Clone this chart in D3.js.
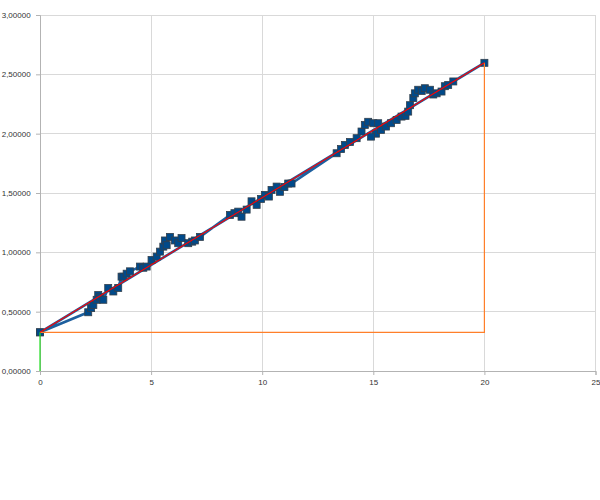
<!DOCTYPE html>
<html><head><meta charset="utf-8">
<script src="https://cdn.jsdelivr.net/npm/d3@7"></script>
<style>body{margin:0;background:#fff}svg{display:block}</style>
</head><body>
<svg id="c" width="600" height="500"></svg>
<script>
const xTicks = [0, 5, 10, 15, 20, 25];
const yTicks = [0, 0.5, 1.0, 1.5, 2.0, 2.5, 3.0];
// measured series (order as plotted)
const seriesX = [0, 2.17, 2.3, 2.4, 2.62, 2.55, 2.7, 2.85, 3.07, 3.3, 3.52, 3.67, 3.75, 3.9, 4.05, 4.5, 4.65, 4.8, 5.02, 5.25, 5.4, 5.55, 5.62, 5.7, 5.85, 6.07, 6.22, 6.37, 6.67, 6.85, 6.97, 7.2,
  8.55, 8.75, 8.92, 9.07, 9.3, 9.52, 9.75, 9.95, 10.12, 10.3, 10.42, 10.65, 10.8, 11.0, 11.17, 11.32,
  13.35, 13.55, 13.72, 13.95, 14.25, 14.47, 14.62, 14.77, 15.0, 15.22, 15.12, 14.9, 15.35, 15.57, 15.8, 16.05, 16.27, 16.45, 16.57, 16.65, 16.8, 16.87, 17.02, 17.18, 17.32, 17.55, 17.7, 17.85, 18.07, 18.22, 18.37, 18.6, 20, 0];
const seriesY = [0.326, 0.495, 0.53, 0.556, 0.64, 0.6, 0.62, 0.6, 0.70, 0.67, 0.70, 0.795, 0.795, 0.82, 0.84, 0.88, 0.87, 0.88, 0.936, 0.964, 1.006, 1.048, 1.10, 1.06, 1.13, 1.10, 1.077, 1.12, 1.077, 1.09, 1.10, 1.13,
  1.315, 1.33, 1.343, 1.30, 1.36, 1.43, 1.40, 1.45, 1.484, 1.47, 1.526, 1.554, 1.51, 1.55, 1.58, 1.58,
  1.835, 1.87, 1.905, 1.93, 1.962, 2.018, 2.074, 2.10, 2.088, 2.088, 2.0, 1.975, 2.032, 2.06, 2.088, 2.116, 2.144, 2.15, 2.186, 2.24, 2.30, 2.34, 2.37, 2.36, 2.383, 2.37, 2.33, 2.34, 2.355, 2.40, 2.41, 2.44, 2.597, 0.326];
const boxX = [0, 20, 20];
const boxY = [0.326, 0.326, 2.597];
const diagX = [0, 20];
const diagY = [0.326, 2.597];
const stemX = [0, 0];
const stemY = [0, 0.326];

const svg = d3.select('#c');
const x = d3.scaleLinear().domain([0, 25]).range([40, 595.5]);
const y = d3.scaleLinear().domain([0, 3]).range([371, 15]);
const fmt = v => d3.format('.5f')(v).replace('.', ',');

// grid
svg.append('g').selectAll('line').data(yTicks).join('line')
  .attr('x1', 40).attr('x2', 595.5).attr('y1', d => y(d)).attr('y2', d => y(d))
  .attr('stroke', '#d9d9d9').attr('stroke-width', 1).attr('shape-rendering', 'crispEdges');
svg.append('g').selectAll('line').data(xTicks).join('line')
  .attr('y1', 15).attr('y2', 371).attr('x1', d => x(d)).attr('x2', d => x(d))
  .attr('stroke', '#d9d9d9').attr('stroke-width', 1).attr('shape-rendering', 'crispEdges');

// axes
const xAxis = d3.axisBottom(x).tickValues(xTicks).tickSize(4).tickFormat(d3.format('d'));
const yAxis = d3.axisLeft(y).tickValues(yTicks).tickSize(4).tickFormat(fmt);
const gx = svg.append('g').attr('transform', 'translate(0,371)').call(xAxis);
const gy = svg.append('g').attr('transform', 'translate(40,0)').call(yAxis);
[gx, gy].forEach(g => {
  g.select('.domain').attr('stroke', '#b3b3b3');
  g.selectAll('.tick line').attr('stroke', '#b3b3b3');
  g.selectAll('text').attr('fill', '#333').style('font', '8px "Liberation Sans", Arial, sans-serif');
});
gx.selectAll('text').attr('dy', '0.9em');
gy.selectAll('text').attr('dx', '-0.3em');

const line = d3.line().x(d => x(d[0])).y(d => y(d[1]));
const pts = seriesX.map((v, i) => [v, seriesY[i]]);

// blue series
svg.append('path').attr('d', line(pts)).attr('fill', 'none')
  .attr('stroke', '#1d5f9e').attr('stroke-width', 2.6).attr('stroke-linejoin', 'round');
svg.append('g').selectAll('rect').data(pts).join('rect')
  .attr('x', d => x(d[0]) - 3.5).attr('y', d => y(d[1]) - 3.5)
  .attr('width', 7).attr('height', 7)
  .attr('fill', '#004a8a').attr('stroke', '#34404c').attr('stroke-width', 0.8);

// orange box
svg.append('path').attr('d', line(boxX.map((v, i) => [v, boxY[i]]))).attr('fill', 'none')
  .attr('stroke', '#ff7f2a').attr('stroke-width', 1.2);
// green stem
svg.append('path').attr('d', line(stemX.map((v, i) => [v, stemY[i]]))).attr('fill', 'none')
  .attr('stroke', '#22dd22').attr('stroke-width', 1.2);
// red diagonal
svg.append('path').attr('d', line(diagX.map((v, i) => [v, diagY[i]]))).attr('fill', 'none')
  .attr('stroke', '#ff0000').attr('stroke-width', 1.1);
</script>
</body></html>
